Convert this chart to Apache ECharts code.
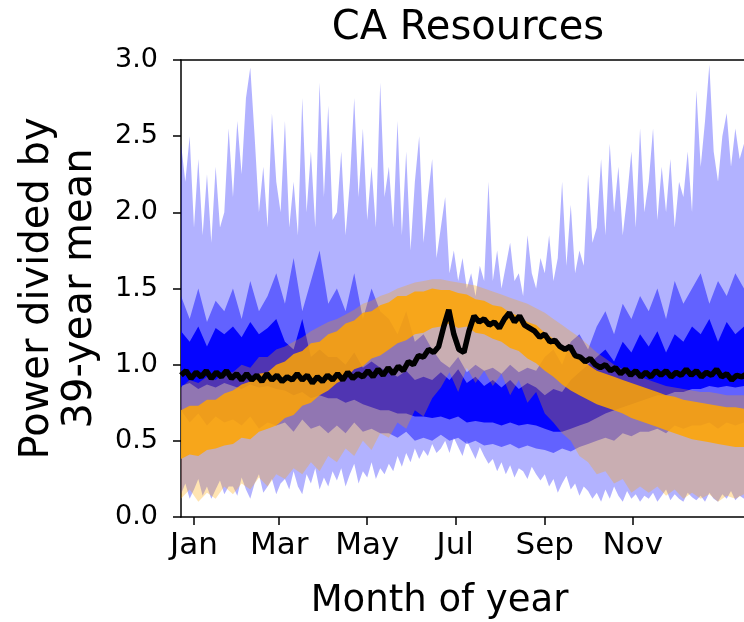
<!DOCTYPE html>
<html>
<head>
<meta charset="utf-8">
<title>CA Resources</title>
<script src="https://cdn.jsdelivr.net/npm/echarts@6/dist/echarts.min.js"></script>
<style>
  html, body { margin: 0; padding: 0; background: #fff; }
  #chart { width: 744px; height: 622px; }
</style>
</head>
<body>
<div id="chart"></div>
<script>
// Day-of-year sample positions (Jan 1 = day 0)
const days3 = Array.from({ length: 131 }, (_, i) => -9 + 3 * i);
const days6 = Array.from({ length: 66 }, (_, i) => -9 + 6 * i);
const days35 = Array.from({ length: 113 }, (_, i) => -9 + 3.5 * i);

// Month tick positions and labels
const monthTicks = [0, 59, 120, 181, 243, 304];
const monthLabels = ['Jan', 'Mar', 'May', 'Jul', 'Sep', 'Nov'];

// Wind: full range (min / max), 3-day samples
const windMax = [
  2.45, 2.2, 2.5, 1.9, 2.35, 1.85, 2.25, 1.8, 2.3, 1.9, 2.0, 2.55,
  2.1, 2.6, 2.25, 2.75, 2.95, 2.5, 2.0, 2.3, 1.9, 2.65, 2.2, 2.0,
  2.6, 1.9, 2.2, 1.85, 2.75, 2.0, 2.4, 1.9, 2.85, 2.1, 2.7, 1.95,
  2.0, 2.4, 1.85, 2.2, 2.75, 2.1, 2.55, 1.95, 2.3, 1.9, 2.85, 2.1,
  2.3, 1.9, 2.6, 1.85, 2.4, 1.75, 2.2, 2.5, 1.8, 2.1, 2.35, 1.7,
  1.9, 2.1, 1.6, 1.75, 1.55, 1.7, 1.5, 1.6, 1.45, 1.65, 1.55, 2.2,
  1.55, 1.75, 1.5, 1.65, 1.8, 1.55, 1.6, 1.45, 1.85, 1.6, 1.5, 1.7,
  1.6, 1.85, 1.55, 1.7, 2.2, 1.65, 2.05, 1.6, 1.75, 1.65, 2.25, 1.8,
  1.9, 2.35, 1.85, 2.45, 2.0, 2.3, 1.85, 2.1, 2.4, 1.9, 2.55, 2.0,
  2.2, 2.55, 1.95, 2.3, 2.0, 2.35, 1.9, 2.2, 2.1, 2.4, 2.0, 2.8,
  2.3, 2.6, 2.97, 2.4, 2.2, 2.5, 2.65, 2.3, 2.55, 2.35, 2.45
];
const windMin = [
  0.15, 0.22, 0.12, 0.18, 0.25, 0.14, 0.2, 0.12, 0.18, 0.24, 0.15, 0.2,
  0.2, 0.14, 0.26, 0.18, 0.12, 0.22, 0.28, 0.16, 0.2, 0.25, 0.15, 0.22,
  0.25, 0.18, 0.3, 0.2, 0.15, 0.28, 0.22, 0.32, 0.18, 0.26, 0.2, 0.3,
  0.24, 0.32, 0.2, 0.28, 0.35, 0.22, 0.3, 0.26, 0.36, 0.25, 0.32, 0.28,
  0.35, 0.3, 0.4, 0.33, 0.42, 0.36, 0.45, 0.38, 0.44, 0.4, 0.48, 0.42,
  0.45, 0.5, 0.42, 0.52, 0.46, 0.4, 0.5, 0.44, 0.38, 0.46, 0.4, 0.35,
  0.38, 0.3, 0.36, 0.28, 0.34, 0.26, 0.32, 0.3, 0.25, 0.33, 0.28, 0.24,
  0.28, 0.2, 0.25, 0.16, 0.22, 0.27, 0.18, 0.22, 0.14, 0.2, 0.17, 0.12,
  0.16, 0.1, 0.18, 0.12, 0.2, 0.14, 0.1, 0.17, 0.12, 0.15, 0.1, 0.14,
  0.12, 0.16, 0.1, 0.14, 0.18, 0.11, 0.15, 0.12, 0.1, 0.16, 0.13, 0.11,
  0.14, 0.1, 0.16, 0.12, 0.1, 0.15, 0.12, 0.17, 0.11, 0.14, 0.12
];

// Wind: middle range, 6-day samples
const windMidHi = [
  1.45, 1.3, 1.5, 1.28, 1.42, 1.35,
  1.5, 1.3, 1.55, 1.35, 1.45, 1.6,
  1.4, 1.7, 1.35, 1.55, 1.75, 1.4,
  1.5, 1.35, 1.6, 1.3, 1.5, 1.35,
  1.3, 1.2, 1.35, 1.15, 1.2, 1.1,
  1.02, 0.98, 1.05, 0.95, 1.0, 0.96,
  0.98, 0.94, 1.0, 0.95, 0.98, 0.96,
  1.05, 1.1, 1.0, 1.15, 1.2, 1.1,
  1.25, 1.35, 1.2, 1.4, 1.3, 1.45,
  1.35, 1.5, 1.3, 1.55, 1.4, 1.5,
  1.6, 1.4, 1.55, 1.45, 1.6, 1.5
];
const windMidLo = [
  0.7, 0.62, 0.68, 0.6, 0.66, 0.62,
  0.64, 0.6, 0.66, 0.58, 0.62, 0.6,
  0.62, 0.56, 0.64, 0.58, 0.6, 0.55,
  0.6, 0.55, 0.62, 0.56, 0.58, 0.55,
  0.55, 0.52, 0.56, 0.5, 0.52, 0.5,
  0.54, 0.5, 0.52, 0.48, 0.5, 0.47,
  0.48, 0.46, 0.48, 0.45, 0.47, 0.45,
  0.44, 0.42, 0.45, 0.43, 0.46, 0.48,
  0.5, 0.52, 0.5, 0.55, 0.53, 0.56,
  0.56, 0.58, 0.55, 0.6, 0.58, 0.6,
  0.6, 0.62, 0.58, 0.62, 0.6, 0.62
];

// Wind: inner range, 6-day samples
const windInHi = [
  1.22, 1.15, 1.25, 1.12, 1.24, 1.2,
  1.25, 1.18, 1.28, 1.2, 1.24, 1.3,
  1.15, 1.1, 1.3, 1.05, 1.1, 1.05,
  1.05, 1.0, 1.08, 0.98, 1.02, 0.98,
  0.95, 0.92, 0.96, 0.9, 0.92, 0.9,
  0.95, 0.9, 0.97, 0.88, 0.92, 0.86,
  0.9, 0.85, 0.9, 0.84, 0.88, 0.85,
  0.8, 0.84, 0.82, 0.9, 0.95, 1.0,
  1.05, 1.1, 1.02, 1.15, 1.08, 1.2,
  1.12, 1.22, 1.08, 1.2, 1.15, 1.25,
  1.2, 1.3, 1.15, 1.28, 1.2, 1.25
];
const windInLo = [
  0.86, 0.88, 0.84, 0.87, 0.85, 0.88,
  0.86, 0.84, 0.87, 0.85, 0.86, 0.84,
  0.83, 0.8, 0.82, 0.78, 0.8, 0.78,
  0.78, 0.75, 0.77, 0.74, 0.72, 0.7,
  0.7, 0.68, 0.68, 0.66, 0.66, 0.65,
  0.66, 0.64, 0.66, 0.62, 0.63, 0.62,
  0.62, 0.6, 0.62, 0.6, 0.61, 0.6,
  0.58, 0.56, 0.56, 0.58, 0.6, 0.62,
  0.65, 0.68, 0.7, 0.72, 0.74, 0.76,
  0.78, 0.8, 0.8, 0.82, 0.82, 0.84,
  0.84, 0.86, 0.85, 0.86, 0.85, 0.86
];

// Solar: full range, 6-day samples
const solarMax = [
  0.85, 0.9, 0.88, 0.92, 0.9, 0.95,
  0.95, 1.0, 0.98, 1.05, 1.05, 1.1,
  1.12, 1.15, 1.18, 1.22, 1.25, 1.28,
  1.3, 1.33, 1.36, 1.4, 1.42, 1.45,
  1.47, 1.5, 1.52, 1.54, 1.55, 1.56,
  1.56, 1.55, 1.54, 1.53, 1.52, 1.5,
  1.48, 1.46, 1.44, 1.42, 1.4, 1.37,
  1.34, 1.3, 1.26, 1.22, 1.18, 1.13,
  1.08, 1.04, 1.0, 0.97, 0.94, 0.92,
  0.9, 0.88, 0.86, 0.85, 0.84, 0.83,
  0.82, 0.82, 0.81, 0.8, 0.8, 0.8
];
const solarMin = [
  0.12, 0.18, 0.1, 0.16, 0.12, 0.2,
  0.15, 0.22, 0.18, 0.26, 0.2, 0.28,
  0.25, 0.32, 0.28, 0.36, 0.3, 0.4,
  0.36, 0.45, 0.4, 0.5, 0.44, 0.55,
  0.52, 0.62, 0.58, 0.7, 0.66, 0.78,
  0.85, 0.95, 0.82, 0.98, 0.88, 0.96,
  0.86, 0.94, 0.8, 0.9, 0.75, 0.82,
  0.68, 0.62, 0.55, 0.5, 0.4, 0.36,
  0.28, 0.3, 0.22, 0.25, 0.16, 0.2,
  0.16, 0.2, 0.14, 0.18, 0.12, 0.16,
  0.12, 0.15, 0.1, 0.14, 0.12, 0.15
];

// Solar: inner range, 6-day samples
const solarInHi = [
  0.7, 0.73, 0.73, 0.77, 0.77, 0.81,
  0.83, 0.87, 0.89, 0.94, 0.95, 1.0,
  1.02, 1.07, 1.09, 1.14, 1.15, 1.2,
  1.22, 1.27, 1.29, 1.34, 1.35, 1.39,
  1.41, 1.45, 1.45, 1.48, 1.48, 1.5,
  1.49, 1.49, 1.47, 1.46, 1.43, 1.42,
  1.39, 1.38, 1.34, 1.32, 1.28, 1.26,
  1.21, 1.17, 1.12, 1.08, 1.04, 1.0,
  0.96, 0.94, 0.92, 0.9, 0.88, 0.86,
  0.84, 0.82, 0.8, 0.79, 0.77, 0.76,
  0.75, 0.74, 0.73, 0.72, 0.72, 0.71
];
const solarInLo = [
  0.38, 0.41, 0.4, 0.44, 0.45, 0.47,
  0.48, 0.52, 0.51, 0.56, 0.58, 0.6,
  0.65, 0.67, 0.73, 0.75, 0.8, 0.83,
  0.88, 0.91, 0.97, 0.99, 1.04, 1.06,
  1.1, 1.14, 1.16, 1.2, 1.21, 1.24,
  1.25, 1.27, 1.24, 1.25, 1.21, 1.2,
  1.17, 1.15, 1.11, 1.09, 1.04, 1.01,
  0.96, 0.92, 0.87, 0.83, 0.8, 0.77,
  0.74, 0.72, 0.7, 0.68, 0.65, 0.63,
  0.61, 0.59, 0.57, 0.55, 0.53, 0.51,
  0.5, 0.49, 0.48, 0.47, 0.46, 0.46
];

// Demand, 3.5-day samples
const demand = [
  0.93, 0.96, 0.91, 0.95, 0.92, 0.96, 0.91, 0.95, 0.92, 0.96, 0.91, 0.94,
  0.9, 0.94, 0.9, 0.93, 0.89, 0.94, 0.9, 0.93, 0.89, 0.92, 0.9, 0.94,
  0.9, 0.93, 0.88, 0.92, 0.89, 0.93, 0.9, 0.94, 0.9, 0.95, 0.91, 0.94,
  0.92, 0.96, 0.92, 0.97, 0.93, 0.98, 0.94, 0.99, 0.96, 1.02, 1.0, 1.06,
  1.05, 1.1, 1.08, 1.12, 1.25, 1.36, 1.2, 1.1, 1.08, 1.22, 1.32, 1.28,
  1.3, 1.26, 1.28, 1.24, 1.3, 1.34, 1.28, 1.32, 1.26, 1.24, 1.22, 1.18,
  1.2, 1.15, 1.16, 1.12, 1.1, 1.12, 1.06, 1.05, 1.02, 1.04, 1.0, 0.98,
  1.0, 0.96, 0.98, 0.94, 0.97, 0.93, 0.96, 0.92, 0.95, 0.92, 0.96, 0.93,
  0.96, 0.92, 0.95, 0.93, 0.97, 0.93, 0.96, 0.92, 0.95, 0.93, 0.97, 0.92,
  0.94, 0.9, 0.93, 0.92, 0.94
];

// A filled band between a lower and an upper curve, drawn as one polygon
function band(id, days, lo, hi, color) {
  return {
    type: 'custom', name: id, silent: true, clip: true,
    encode: { x: 0, y: [1, 2] },
    data: days.map((d, i) => [d, lo[i], hi[i]]),
    renderItem: function (params, api) {
      if (params.dataIndex !== 0) return null;
      const pts = [];
      for (let i = 0; i < days.length; i++) pts.push(api.coord([days[i], hi[i]]));
      for (let i = days.length - 1; i >= 0; i--) pts.push(api.coord([days[i], lo[i]]));
      return {
        type: 'polygon',
        shape: { points: pts },
        style: { fill: color, stroke: null }
      };
    }
  };
}

const FONT = 'DejaVu Sans';
const chart = echarts.init(document.getElementById('chart'), null, { renderer: 'canvas' });

chart.setOption({
  animation: false,
  backgroundColor: '#ffffff',
  title: {
    text: 'CA Resources',
    left: 463, top: 4, textAlign: 'center',
    textStyle: { fontFamily: FONT, fontSize: 40, fontWeight: 'normal', color: '#000' }
  },
  grid: {
    left: 181, right: 0, top: 60, bottom: 105,
    containLabel: false, outerBoundsMode: 'none'
  },
  xAxis: [
    {
      type: 'value', min: -9, max: 381,
      name: 'Month of year', nameLocation: 'middle', nameGap: 66,
      nameTextStyle: { fontFamily: FONT, fontSize: 37, color: '#000', padding: [0, 46, 0, 0] },
      axisLine: { show: true, onZero: false, lineStyle: { color: '#000', width: 1.5 } },
      axisTick: { show: true, length: 8, customValues: monthTicks, lineStyle: { color: '#000', width: 1.5 } },
      axisLabel: {
        show: true, customValues: monthTicks, margin: 13,
        fontFamily: FONT, fontSize: 31, color: '#000',
        formatter: v => monthLabels[monthTicks.indexOf(Math.round(v))] || ''
      },
      splitLine: { show: false }
    },
    {
      type: 'value', min: -9, max: 381, position: 'top',
      axisLine: { show: true, onZero: false, lineStyle: { color: '#000', width: 1.5 } },
      axisTick: { show: false }, axisLabel: { show: false }, splitLine: { show: false }
    }
  ],
  yAxis: {
    type: 'value', min: 0, max: 3, interval: 0.5,
    name: 'Power divided by\n39-year mean', nameLocation: 'middle', nameGap: 79,
    nameTextStyle: { fontFamily: FONT, fontSize: 40, color: '#000', lineHeight: 43 },
    axisLine: { show: true, onZero: false, lineStyle: { color: '#000', width: 1.5 } },
    axisTick: { show: true, length: 8, lineStyle: { color: '#000', width: 1.5 } },
    axisLabel: {
      margin: 23, fontFamily: FONT, fontSize: 27, color: '#000',
      formatter: v => v.toFixed(1)
    },
    splitLine: { show: false }
  },
  series: [
    band('wind-range', days3, windMin, windMax, 'rgba(0,0,255,0.3)'),
    band('wind-mid', days6, windMidLo, windMidHi, 'rgba(0,0,255,0.45)'),
    band('wind-inner', days6, windInLo, windInHi, 'rgba(0,0,255,0.95)'),
    band('solar-range', days6, solarMin, solarMax, 'rgba(255,165,0,0.3)'),
    band('solar-inner', days6, solarInLo, solarInHi, 'rgba(255,165,0,0.85)'),
    {
      type: 'line', name: 'demand', silent: true, symbol: 'none',
      lineStyle: { color: '#000', width: 5.5 },
      data: days35.map((d, i) => [d, demand[i]])
    }
  ]
});
</script>
</body>
</html>
